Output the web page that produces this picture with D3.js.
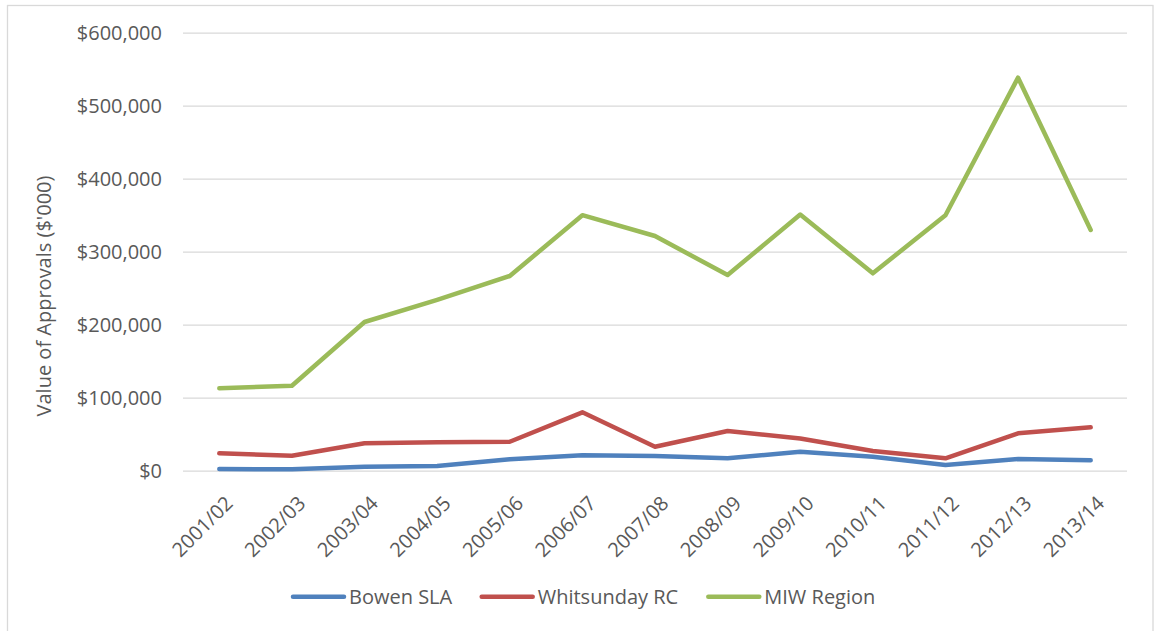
<!DOCTYPE html>
<html>
<head>
<meta charset="utf-8">
<script src="https://cdn.jsdelivr.net/npm/d3@7"></script>
<style>
  html, body { margin: 0; padding: 0; background: #fff; }
  svg { display: block; }
  text { font-family: "Open Sans", "Noto Sans", sans-serif; fill: #595959; }
</style>
</head>
<body>
<svg id="chart" width="1154" height="631"></svg>
<script>
// Financial years on the category axis
const years = ["2001/02", "2002/03", "2003/04", "2004/05", "2005/06", "2006/07", "2007/08",
               "2008/09", "2009/10", "2010/11", "2011/12", "2012/13", "2013/14"];

// Value of building approvals, $'000
const bowenSLA     = [2300, 2000, 5500, 6400, 15600, 21000, 20100, 17000, 26000, 19200, 7800, 16000, 14200];
const whitsundayRC = [23800, 20500, 37500, 38900, 39700, 80000, 32900, 54400, 44000, 27000, 17000, 51200, 59400];
const miwRegion    = [112900, 116400, 203700, 234000, 266700, 350000, 321500, 268000, 351000, 270400, 350000, 538400, 329700];

const seriesNames  = ["Bowen SLA", "Whitsunday RC", "MIW Region"];
const seriesColors = ["#4F81BD", "#C0504D", "#9BBB59"];
const yTicks = [0, 100000, 200000, 300000, 400000, 500000, 600000];

const series = [bowenSLA, whitsundayRC, miwRegion].map((values, i) => ({
  name: seriesNames[i], color: seriesColors[i], values
}));

const svg = d3.select("#chart");
const plot = { left: 183, right: 1127, top: 32.7, bottom: 470.7 };
const fontSize = 20;

// Chart area frame
svg.append("rect")
  .attr("x", 7.5).attr("y", 5.5)
  .attr("width", 1145.5).attr("height", 640)
  .attr("fill", "#fff").attr("stroke", "#d9d9d9").attr("stroke-width", 1.3);

const x = d3.scaleBand().domain(years).range([plot.left, plot.right]);
const y = d3.scaleLinear().domain([0, 600000]).range([plot.bottom, plot.top]);
const fmt = v => "$" + d3.format(",")(v);

// Horizontal gridlines and value labels
const yAxis = d3.axisLeft(y).tickValues(yTicks).tickFormat(fmt)
  .tickSize(-(plot.right - plot.left)).tickPadding(21);
const gy = svg.append("g").attr("transform", `translate(${plot.left},0)`).call(yAxis);
gy.select(".domain").remove();
gy.selectAll(".tick line").attr("stroke", "#d9d9d9").attr("stroke-width", 1.3);
gy.selectAll(".tick text").attr("font-size", fontSize).attr("fill", "#595959")
  .attr("font-family", "\"Open Sans\", sans-serif");

// Category labels, rotated
const xAxis = d3.axisBottom(x).tickSize(0).tickPadding(0);
const gx = svg.append("g").attr("transform", `translate(0,${plot.bottom})`).call(xAxis);
gx.select(".domain").remove();
gx.selectAll(".tick text")
  .attr("font-size", fontSize).attr("fill", "#595959")
  .attr("font-family", "\"Open Sans\", sans-serif")
  .attr("text-anchor", "end")
  .attr("dy", null).attr("y", 0)
  .attr("transform", "translate(3,22) rotate(-45)")
  .attr("dominant-baseline", "hanging");

// Axis title
svg.append("text")
  .attr("transform", "translate(43,296) rotate(-90)")
  .attr("text-anchor", "middle").attr("dominant-baseline", "central")
  .attr("font-size", fontSize)
  .text("Value of Approvals ($'000)");

// Series lines
const line = d3.line()
  .x((d, i) => x(years[i]) + x.bandwidth() / 2)
  .y(d => y(d));

svg.append("g").selectAll("path").data(series).join("path")
  .attr("d", d => line(d.values))
  .attr("fill", "none")
  .attr("stroke", d => d.color)
  .attr("stroke-width", 4.5)
  .attr("stroke-linecap", "round")
  .attr("stroke-linejoin", "round");

// Legend
const legendY = 596.7;
const legendX = [293, 481.7, 708.3];
const lg = svg.append("g").selectAll("g").data(series).join("g")
  .attr("transform", (d, i) => `translate(${legendX[i]},${legendY})`);
lg.append("line").attr("x1", 0).attr("x2", 51).attr("y1", 0).attr("y2", 0)
  .attr("stroke", d => d.color).attr("stroke-width", 4.5).attr("stroke-linecap", "round");
lg.append("text").attr("x", 56).attr("y", 0)
  .attr("dominant-baseline", "central").attr("font-size", fontSize)
  .text(d => d.name);
</script>
</body>
</html>
